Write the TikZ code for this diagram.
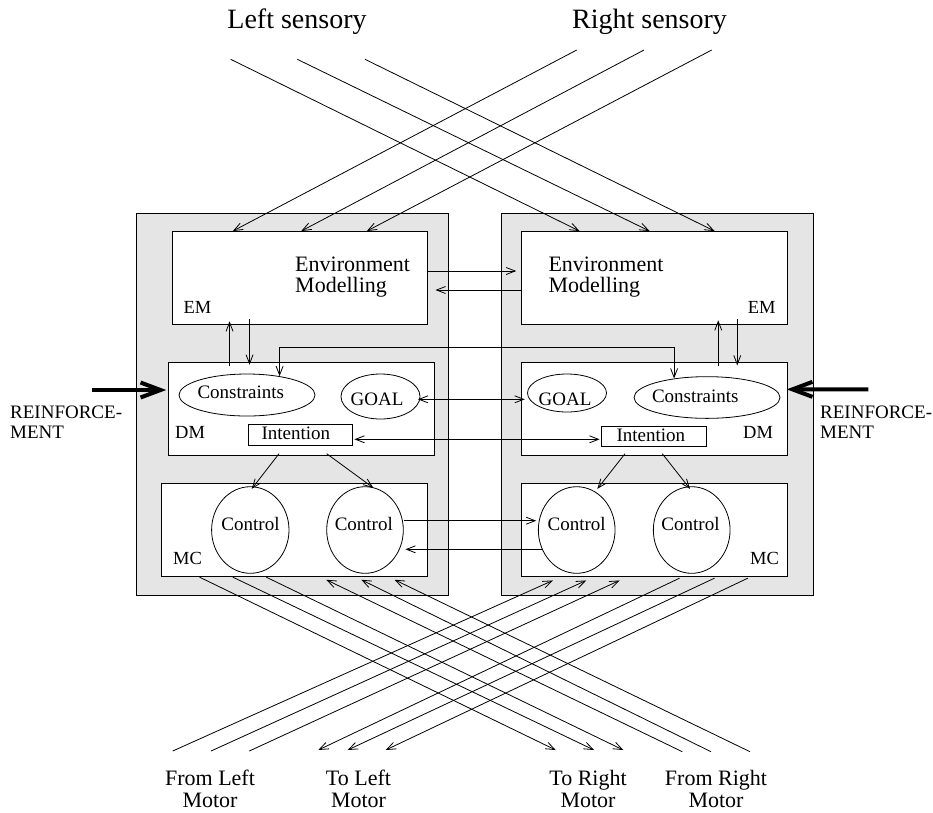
\documentclass[tikz,border=0pt]{standalone}
\usepackage{fontspec}
\setmainfont{Liberation Serif}
\usetikzlibrary{arrows.meta,shapes.geometric}

\tikzset{
  unit/.style={draw=black, fill=black!10, line width=0.9pt, inner sep=0pt},
  module/.style={draw=black, fill=white, line width=0.9pt, inner sep=0pt},
  oval/.style={ellipse, draw=black, fill=white, line width=0.8pt, inner sep=0pt},
  wire/.style={line width=0.8pt},
  conn/.style={wire, -{Straight Barb[length=9pt,width=7pt]}},
  biconn/.style={wire, {Straight Barb[length=9pt,width=7pt]}-{Straight Barb[length=9pt,width=7pt]}},
  heavy/.style={line width=4pt, -{Straight Barb[length=20pt,width=15pt]}},
  title/.style={font=\fontsize{28}{30}\selectfont, inner sep=0pt},
  bigtxt/.style={font=\fontsize{22}{21.7}\selectfont, inner sep=0pt},
  txt/.style={font=\fontsize{19}{20}\selectfont, inner sep=0pt},
  tag/.style={font=\fontsize{18.5}{20}\selectfont, inner sep=0pt},
}

\begin{document}
\begin{tikzpicture}[x=1pt,y=-1pt]
\useasboundingbox (0,0) rectangle (933,812);

% ---------- the two hemispheres ----------
\node[unit, minimum width=311.6pt, minimum height=381.7pt] (grayL) at (292.5,404.15) {};
\node[unit, minimum width=312.3pt, minimum height=381.7pt] (grayR) at (657.15,404.15) {};

% environment modelling
\node[module, minimum width=254.6pt, minimum height=92.5pt] (emL) at (300,277.75) {};
\node[module, minimum width=265.6pt, minimum height=92.5pt] (emR) at (654.5,277.75) {};
% decision making
\node[module, minimum width=265.7pt, minimum height=92.5pt] (dmL) at (301.15,408.75) {};
\node[module, minimum width=265.6pt, minimum height=92.5pt] (dmR) at (654.5,408.75) {};
% motor control
\node[module, minimum width=265.6pt, minimum height=92.7pt] (mcL) at (294.5,529.65) {};
\node[module, minimum width=265.6pt, minimum height=92.7pt] (mcR) at (654.5,529.65) {};

% inner shapes, left
\node[oval, minimum width=136pt, minimum height=42pt] (consL) at (247,395) {};
\node[oval, minimum width=79pt, minimum height=45pt] (goalL) at (380.5,396.5) {};
\node[module, line width=0.8pt, minimum width=104pt, minimum height=20.7pt] (intL) at (300.3,434.7) {};
\node[oval, minimum width=77.4pt, minimum height=86.6pt] (ctlLa) at (250.3,530) {};
\node[oval, minimum width=76.6pt, minimum height=86.6pt] (ctlLb) at (365,530) {};
% inner shapes, right
\node[oval, minimum width=146pt, minimum height=41.7pt] (consR) at (707,397.5) {};
\node[oval, minimum width=79pt, minimum height=38pt] (goalR) at (567,393) {};
\node[module, line width=0.8pt, minimum width=104.3pt, minimum height=20.7pt] (intR) at (653.85,436.35) {};
\node[oval, minimum width=76.7pt, minimum height=86.6pt] (ctlRa) at (576.7,530) {};
\node[oval, minimum width=76.7pt, minimum height=86.6pt] (ctlRb) at (691.7,530) {};

% ---------- texts (multi-line nodes sit on their last baseline) ----------
\node[title, anchor=base] (tLs) at (297,28.3) {Left sensory};
\node[title, anchor=base] (tRs) at (649.5,28.3) {Right sensory};

\node[bigtxt, anchor=base west, align=left] (tEnvL) at (295,292.7) {Environment\\Modelling};
\node[bigtxt, anchor=base west, align=left] (tEnvR) at (548.3,292.7) {Environment\\Modelling};

\node[tag, anchor=base west] (tEML) at (183.3,313.3) {EM};
\node[tag, anchor=base west] (tEMR) at (747.7,313.3) {EM};
\node[tag, anchor=base west] (tDML) at (175,438) {DM};
\node[tag, anchor=base west] (tDMR) at (743,438.3) {DM};
\node[tag, anchor=base west] (tMCL) at (173,564) {MC};
\node[tag, anchor=base west] (tMCR) at (750,564) {MC};

\node[txt, anchor=base] (tConsL) at (240.8,398.8) {Constraints};
\node[txt, anchor=base] (tConsR) at (695.3,402.5) {Constraints};
\node[txt, anchor=base] (tGoalL) at (377,405.3) {GOAL};
\node[txt, anchor=base] (tGoalR) at (565,405.8) {GOAL};
\node[txt, anchor=base] (tIntL) at (295.8,439.6) {Intention};
\node[txt, anchor=base] (tIntR) at (650.8,441) {Intention};
\node[txt, anchor=base] (tCtlLa) at (250.5,530) {Control};
\node[txt, anchor=base] (tCtlLb) at (363.8,530) {Control};
\node[txt, anchor=base] (tCtlRa) at (576.7,530) {Control};
\node[txt, anchor=base] (tCtlRb) at (690.5,530) {Control};

\node[txt, anchor=base west, align=left] (tReL) at (10,438.3) {REINFORCE-\\MENT};
\node[txt, anchor=base west, align=left] (tReR) at (820,438.3) {REINFORCE-\\MENT};

\node[bigtxt, anchor=base, align=center] (tFL) at (210,807.3) {From Left\\Motor};
\node[bigtxt, anchor=base, align=center] (tTL) at (358.5,807.3) {To Left\\Motor};
\node[bigtxt, anchor=base, align=center] (tTR) at (588,807.3) {To Right\\Motor};
\node[bigtxt, anchor=base, align=center] (tFR) at (716,807.3) {From Right\\Motor};

% ---------- free ends of the sensory and motor lines ----------
\coordinate (sL1) at (230.7,59.3);
\coordinate (sL2) at (297.3,59.3);
\coordinate (sL3) at (365,59.3);
\coordinate (sR1) at (576.7,50);
\coordinate (sR2) at (644,50);
\coordinate (sR3) at (711.7,50);
\coordinate (fL1) at (172.7,751);
\coordinate (fL2) at (211,751);
\coordinate (fL3) at (249.3,751);
\coordinate (oL1) at (318.3,750);
\coordinate (oL2) at (347.7,750);
\coordinate (oL3) at (385.7,750);
\coordinate (oR1) at (555.7,750);
\coordinate (oR2) at (594,750);
\coordinate (oR3) at (623.3,750);
\coordinate (fR1) at (682.3,751.7);
\coordinate (fR2) at (711,751.7);
\coordinate (fR3) at (750,751.7);
\coordinate (reL) at (91.7,390);
\coordinate (reR) at (868.3,389.3);

% ---------- sensory inputs (crossed) ----------
\draw[conn] (sL1) -- ([xshift=58.3pt]emR.north west);
\draw[conn] (sL2) -- ([xshift=128.3pt]emR.north west);
\draw[conn] (sL3) -- ([xshift=193.3pt]emR.north west);
\draw[conn] (sR1) -- ([xshift=60.6pt]emL.north west);
\draw[conn] (sR2) -- ([xshift=129pt]emL.north west);
\draw[conn] (sR3) -- ([xshift=194.6pt]emL.north west);

% ---------- motor outputs and feedback (crossed) ----------
\draw[conn] ([xshift=38.3pt,yshift=-0.7pt]mcL.south west) -- (oR1);
\draw[conn] ([xshift=71.6pt,yshift=-0.7pt]mcL.south west) -- (oR2);
\draw[conn] ([xshift=105pt,yshift=-0.7pt]mcL.south west) -- (oR3);
\draw[conn] (fR1) -- ([xshift=165pt,yshift=-3.3pt]mcL.south west);
\draw[conn] (fR2) -- ([xshift=200pt,yshift=-3.3pt]mcL.south west);
\draw[conn] (fR3) -- ([xshift=233.3pt,yshift=-3.3pt]mcL.south west);
\draw[conn] (fL1) -- ([xshift=31.6pt,yshift=-4pt]mcR.south west);
\draw[conn] (fL2) -- ([xshift=65pt,yshift=-4pt]mcR.south west);
\draw[conn] (fL3) -- ([xshift=98.3pt,yshift=-4pt]mcR.south west);
\draw[conn] ([xshift=158.3pt,yshift=-1.7pt]mcR.south west) -- (oL1);
\draw[conn] ([xshift=193.3pt,yshift=-1.7pt]mcR.south west) -- (oL2);
\draw[conn] ([xshift=226.6pt,yshift=-1.7pt]mcR.south west) -- (oL3);

% ---------- links between the hemispheres ----------
\draw[conn, shorten >=5pt] ([yshift=6.75pt]emL.east) -- ([yshift=6.75pt]emR.west);
\draw[conn, shorten >=7.7pt] ([yshift=-12.25pt]emR.west) -- ([yshift=-12.25pt]emL.east);
\draw[biconn] (consL.30) -- ++(0,-29) -| (consR.150);
\draw[biconn] ([xshift=-2.5pt,yshift=-2.8pt]goalL.east) -- ([xshift=-2.3pt,yshift=-6.3pt]goalR.west);
\draw[biconn] ([xshift=1.7pt,yshift=-4.6pt]intL.east) -- ([xshift=-1.7pt,yshift=-2.95pt]intR.west);
\draw[conn] ([yshift=9.3pt]ctlLb.east) -- ([xshift=-1.7pt,yshift=9.3pt]ctlRa.west);
\draw[conn] ([xshift=4pt,yshift=-19.3pt]ctlRa.west) -- ([xshift=1.7pt,yshift=-19.3pt]ctlLb.east);

% ---------- links inside each hemisphere ----------
\draw[conn] ([xshift=61.7pt,yshift=-4.2pt]dmL.north west) -- ++(0,-45);
\draw[conn] ([xshift=77.3pt,yshift=5.7pt]emL.south west) -- ++(0,46);
\draw[conn] ([xshift=197pt,yshift=-4.2pt]dmR.north west) -- ++(0,-46);
\draw[conn] ([xshift=216pt,yshift=5.7pt]emR.south west) -- ++(0,46.7);

\draw[conn] ([xshift=-21.3pt,yshift=-8.25pt]intL.south) -- ([xshift=1.4pt,yshift=-2.6pt]ctlLa.north);
\draw[conn] ([xshift=26.4pt,yshift=-8.25pt]intL.south) -- ([xshift=8.3pt,yshift=-1.5pt]ctlLb.north);
\draw[conn] ([xshift=-28.85pt,yshift=-6.6pt]intR.south) -- ([xshift=20.6pt,yshift=-2.6pt]ctlRa.north);
\draw[conn] ([xshift=8.45pt,yshift=-6.6pt]intR.south) -- ([xshift=-1.7pt,yshift=-2.6pt]ctlRb.north);

% ---------- reinforcement ----------
\draw[heavy] (reL) -- ([xshift=-1.6pt,yshift=18.75pt]dmL.west);
\draw[heavy] (reR) -- ([xshift=-1pt,yshift=19.4pt]dmR.east);
\end{tikzpicture}
\end{document}
